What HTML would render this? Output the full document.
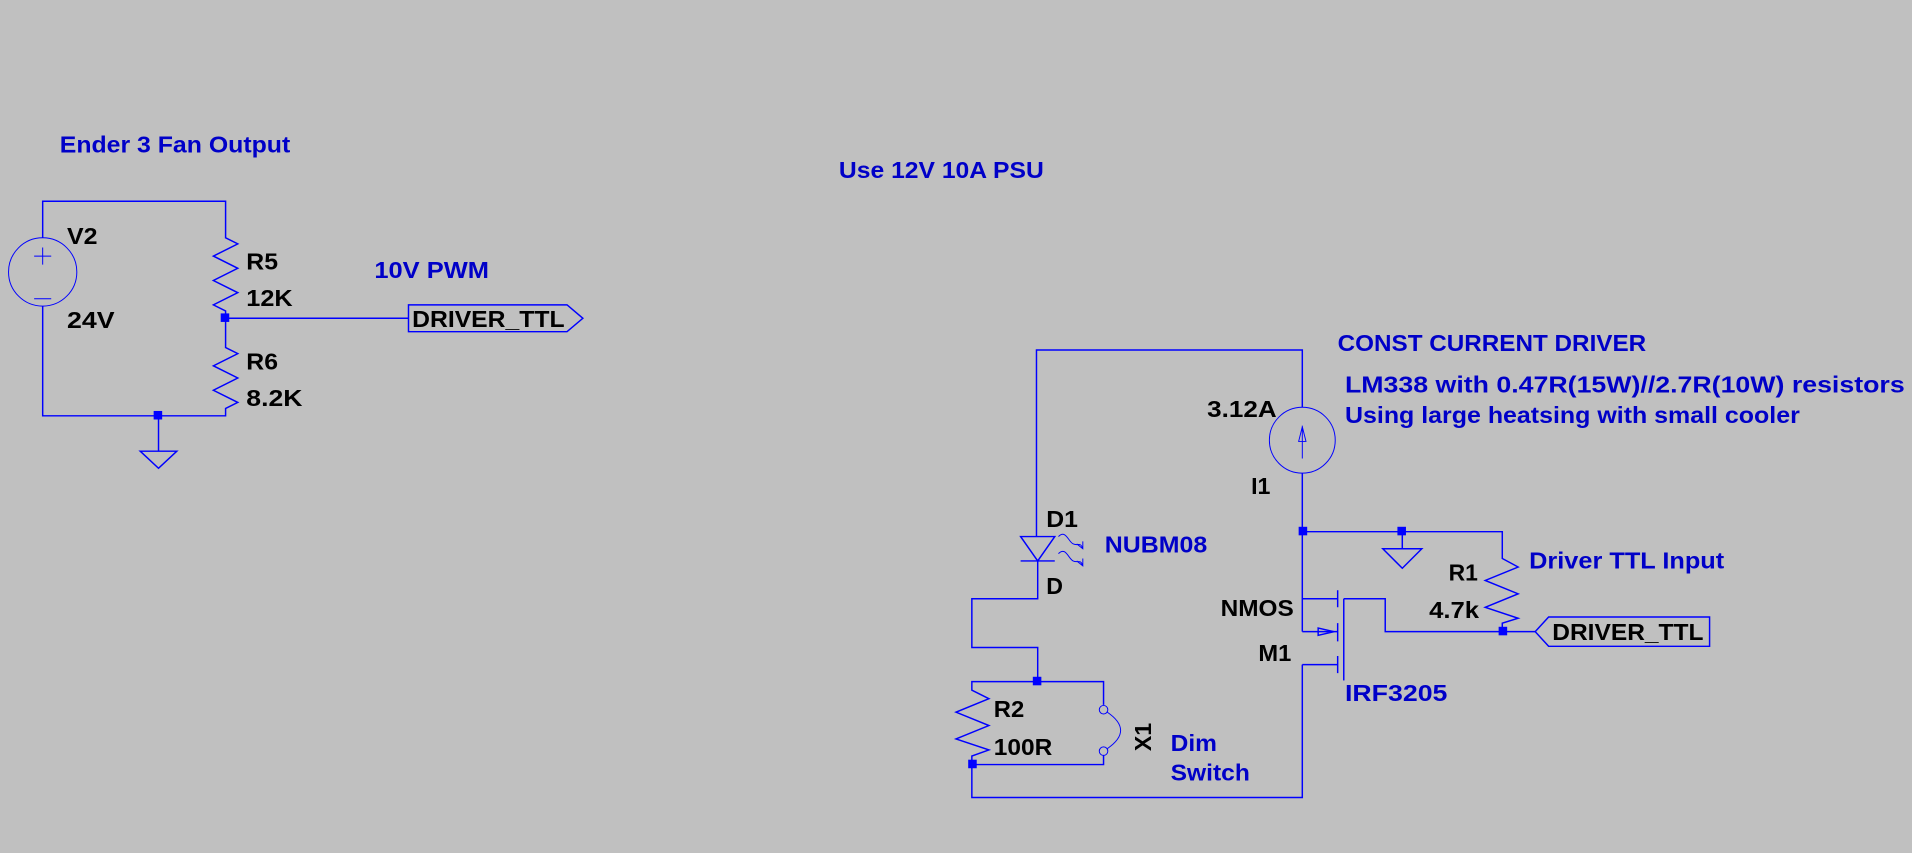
<!DOCTYPE html>
<html><head><meta charset="utf-8"><style>
html,body{margin:0;padding:0;background:#c0c0c0;overflow:hidden}
svg{display:block}
text{font-family:"Liberation Sans",sans-serif;font-weight:bold;font-size:19px}
.b{fill:#0000c8}.k{fill:#000}
</style></head><body>
<svg width="1912" height="853" viewBox="0 0 1568 699.5" xmlns="http://www.w3.org/2000/svg">
<rect width="1568" height="700" fill="#c0c0c0"/>
<g stroke="#0000ff" stroke-width="1.2" fill="none">
<polyline points="35,195 35,165 185,165 185,195 195,200 175,210 195,220 175,230 195,240 175,250 185,255 185,285 195,290 175,300 195,310 175,320 195,330 185,335 185,341 35,341 35,251"/>
<circle cx="35" cy="223" r="28" stroke-width="0.8"/>
<path d="M35,203v14M28,210h14M28,245h14" stroke-width="0.8"/>
<line x1="185" y1="261" x2="335" y2="261"/>
<line x1="130" y1="341" x2="130" y2="370"/>
<polygon points="115,370 145,370 130,384"/>
<polygon points="335,250 465,250 478,261 465,272 335,272"/>
<polyline points="850,440 850,287 1068,287 1068,334"/>
<circle cx="1068" cy="361" r="27" stroke-width="0.8"/>
<path d="M1068,376V349M1065,362l3,-12l3,12z" stroke-width="0.8"/>
<polyline points="1068,388 1068,518"/>
<polyline points="1068,436 1232,436 1232,458 1245,465 1218,476 1245,487 1218,498 1245,507 1232,511 1232,518"/>
<line x1="1150" y1="436" x2="1150" y2="450"/>
<polygon points="1134,450 1166,450 1150,466"/>
<polyline points="1232,518 1136,518 1136,491 1102,491"/>
<line x1="1102" y1="491" x2="1102" y2="558"/>
<path d="M1097,484v14M1097,511v15M1097,538v14"/>
<path d="M1068,491h29M1068,545h29M1068,518h29"/>
<polygon points="1081,515 1081,521 1094,518"/>
<polyline points="1068,545 1068,654 797,654 797,627"/>
<polygon points="1259,518 1270,506 1402,506 1402,530 1270,530"/>
<line x1="1232" y1="518" x2="1259" y2="518"/>
<polygon points="837,440 865,440 851,460"/>
<line x1="837" y1="460" x2="865" y2="460"/>
<polyline points="851,460 851,491 797,491 797,531 851,531 851,559"/>
<path d="M868,440c6,-6 8,4 12,6s6,-2 8,4M883,446l5,4l0,-6M868,454c6,-6 8,4 12,6s6,-2 8,4M883,460l5,4l0,-6" stroke-width="0.8"/>
<polyline points="905,578 905,559 797,559 797,566 811,573 784,584 811,595 784,606 811,615 797,620 797,627 905,627 905,619"/>
<circle cx="905" cy="582" r="3.5" stroke-width="0.8"/>
<circle cx="905" cy="616" r="3.5" stroke-width="0.8"/>
<path d="M908,584Q930,599 908,614" stroke-width="0.8"/>
</g>
<g fill="#0000ff">
<rect x="181" y="257" width="7" height="7"/><rect x="126" y="337" width="7" height="7"/>
<rect x="1065" y="432" width="7" height="7"/><rect x="1146" y="432" width="7" height="7"/>
<rect x="1229" y="514" width="7" height="7"/><rect x="847" y="555" width="7" height="7"/>
<rect x="794" y="623" width="7" height="7"/>
</g>
<g>
<text class="b" x="49" y="125" textLength="189" lengthAdjust="spacingAndGlyphs">Ender 3 Fan Output</text>
<text class="b" x="688" y="146" textLength="168" lengthAdjust="spacingAndGlyphs">Use 12V 10A PSU</text>
<text class="b" x="307" y="228" textLength="94" lengthAdjust="spacingAndGlyphs">10V PWM</text>
<text class="k" x="55" y="200" textLength="25" lengthAdjust="spacingAndGlyphs">V2</text>
<text class="k" x="55" y="269" textLength="39" lengthAdjust="spacingAndGlyphs">24V</text>
<text class="k" x="202" y="221" textLength="26" lengthAdjust="spacingAndGlyphs">R5</text>
<text class="k" x="202" y="251" textLength="38" lengthAdjust="spacingAndGlyphs">12K</text>
<text class="k" x="202" y="303" textLength="26" lengthAdjust="spacingAndGlyphs">R6</text>
<text class="k" x="202" y="333" textLength="46" lengthAdjust="spacingAndGlyphs">8.2K</text>
<text class="k" x="338" y="268" textLength="125" lengthAdjust="spacingAndGlyphs">DRIVER_TTL</text>
<text class="b" x="1097" y="288" textLength="253" lengthAdjust="spacingAndGlyphs">CONST CURRENT DRIVER</text>
<text class="b" x="1103" y="322" textLength="459" lengthAdjust="spacingAndGlyphs">LM338 with 0.47R(15W)//2.7R(10W) resistors</text>
<text class="b" x="1103" y="347" textLength="373" lengthAdjust="spacingAndGlyphs">Using large heatsing with small cooler</text>
<text class="k" x="990" y="342" textLength="57" lengthAdjust="spacingAndGlyphs">3.12A</text>
<text class="k" x="1026" y="405">I1</text>
<text class="k" x="858" y="432" textLength="26" lengthAdjust="spacingAndGlyphs">D1</text>
<text class="b" x="906" y="453" textLength="84" lengthAdjust="spacingAndGlyphs">NUBM08</text>
<text class="k" x="858" y="487">D</text>
<text class="k" x="1001" y="505" textLength="60" lengthAdjust="spacingAndGlyphs">NMOS</text>
<text class="k" x="1032" y="542" textLength="27" lengthAdjust="spacingAndGlyphs">M1</text>
<text class="b" x="1103" y="575" textLength="84" lengthAdjust="spacingAndGlyphs">IRF3205</text>
<text class="k" x="1188" y="476" textLength="24" lengthAdjust="spacingAndGlyphs">R1</text>
<text class="k" x="1172" y="507" textLength="41" lengthAdjust="spacingAndGlyphs">4.7k</text>
<text class="b" x="1254" y="466" textLength="160" lengthAdjust="spacingAndGlyphs">Driver TTL Input</text>
<text class="k" x="1273" y="525" textLength="124" lengthAdjust="spacingAndGlyphs">DRIVER_TTL</text>
<text class="k" x="815" y="588" textLength="25" lengthAdjust="spacingAndGlyphs">R2</text>
<text class="k" x="815" y="619" textLength="48" lengthAdjust="spacingAndGlyphs">100R</text>
<text class="k" transform="translate(944,616) rotate(-90)">X1</text>
<text class="b" x="960" y="616" textLength="38" lengthAdjust="spacingAndGlyphs">Dim</text>
<text class="b" x="960" y="640" textLength="65" lengthAdjust="spacingAndGlyphs">Switch</text>
</g>
</svg>
</body></html>
